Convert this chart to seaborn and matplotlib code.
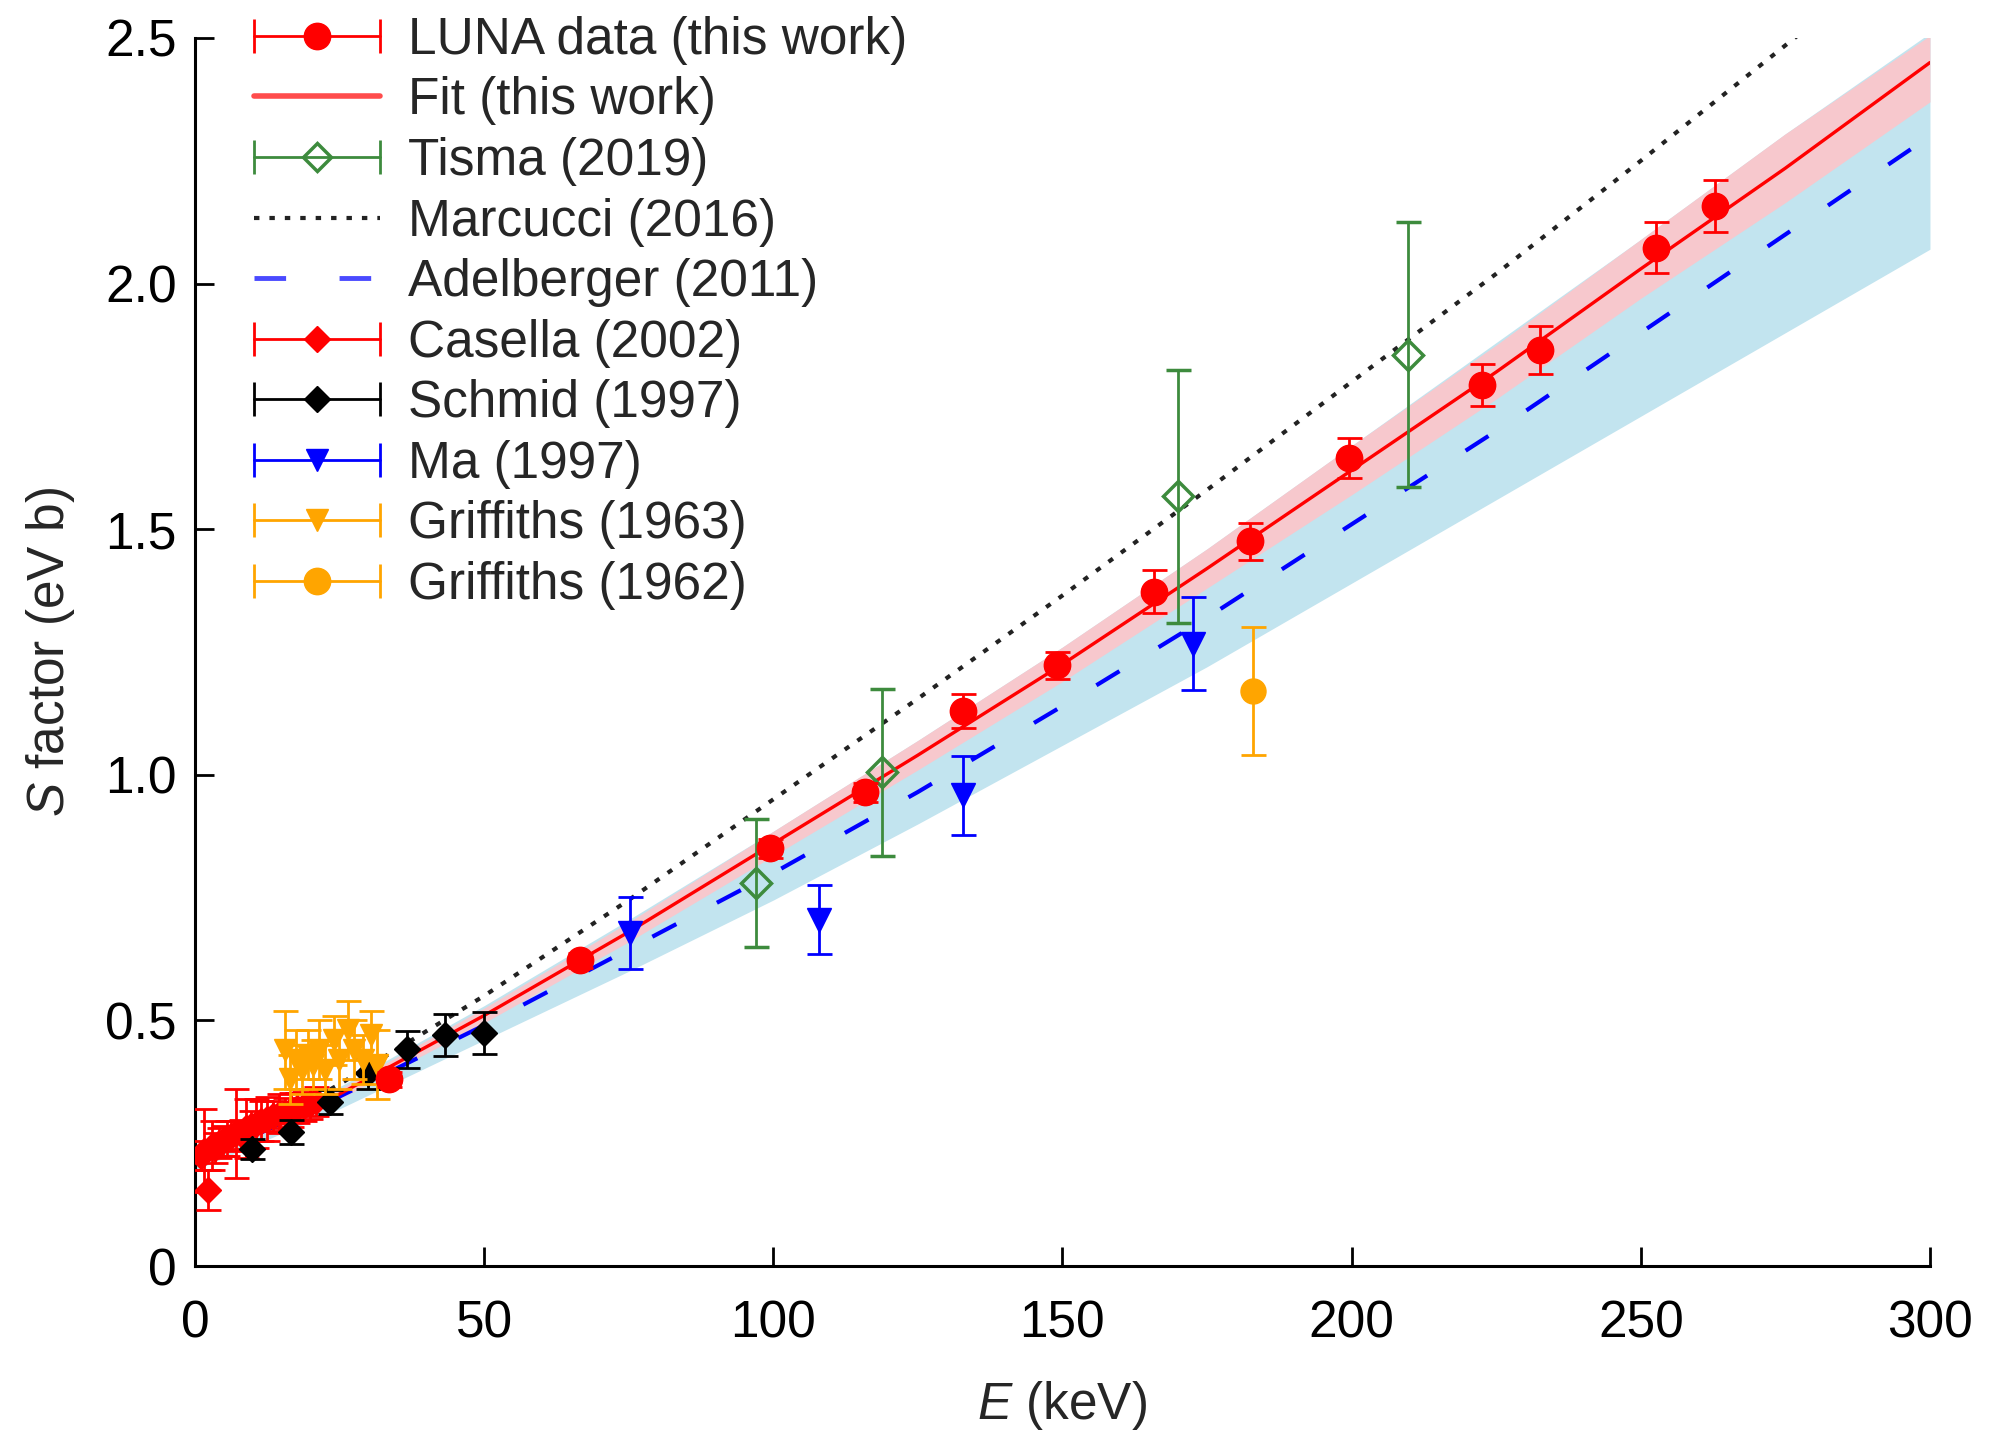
import numpy as np
import pandas as pd
import matplotlib
matplotlib.use('Agg')
import matplotlib.pyplot as plt
from matplotlib.lines import Line2D
from matplotlib.legend_handler import HandlerLine2D, HandlerTuple
import seaborn as sns

# model curves on a 25 keV grid
grid_E = [0, 25, 50, 75, 100, 125, 150, 175, 200, 225, 250, 275, 300]
fit_S = [0.21, 0.35, 0.51, 0.68, 0.86, 1.04, 1.225, 1.42, 1.62, 1.82, 2.03, 2.235, 2.45]
fit_lo = [0.205, 0.34, 0.495, 0.66, 0.835, 1.01, 1.19, 1.38, 1.57, 1.765, 1.97, 2.165, 2.37]
fit_hi = [0.215, 0.36, 0.525, 0.70, 0.885, 1.07, 1.26, 1.46, 1.67, 1.875, 2.09, 2.305, 2.505]
adel_S = [0.21, 0.345, 0.49, 0.645, 0.80, 0.965, 1.14, 1.32, 1.51, 1.70, 1.90, 2.10, 2.30]
adel_lo = [0.195, 0.32, 0.46, 0.60, 0.745, 0.90, 1.06, 1.22, 1.39, 1.56, 1.73, 1.90, 2.07]
adel_hi = [0.225, 0.365, 0.53, 0.705, 0.885, 1.07, 1.26, 1.46, 1.67, 1.88, 2.09, 2.305, 2.51]
marc_S = [0.21, 0.37, 0.55, 0.745, 0.95, 1.155, 1.365, 1.58, 1.80, 2.02, 2.25, 2.485, 2.72]

# data sets
luna_E = [33.5, 66.6, 99.4, 115.9, 132.8, 149.1, 165.8, 182.5, 199.5, 222.6, 232.5, 252.7, 262.8]
luna_S = [0.38, 0.622, 0.85, 0.964, 1.13, 1.223, 1.373, 1.475, 1.645, 1.793, 1.865, 2.073, 2.158]
luna_err = [0.015, 0.015, 0.02, 0.02, 0.034, 0.027, 0.043, 0.038, 0.041, 0.043, 0.049, 0.052, 0.053]

tisma_E = [97.0, 118.8, 170.0, 209.8]
tisma_S = [0.78, 1.005, 1.567, 1.855]
tisma_err = [0.13, 0.17, 0.258, 0.27]

casella_E = [1.0, 1.6, 2.2, 2.9, 3.5, 4.2, 4.9, 5.6, 6.3, 7.1, 7.9, 8.8, 9.7, 10.6, 11.5, 12.5,
             13.5, 14.5, 15.5, 16.6, 17.7, 18.8, 19.9, 21.0]
casella_S = [0.225, 0.235, 0.155, 0.245, 0.24, 0.25, 0.255, 0.26, 0.265, 0.27, 0.268, 0.28, 0.285, 0.29,
             0.295, 0.30, 0.305, 0.31, 0.312, 0.318, 0.322, 0.325, 0.33, 0.335]
casella_err = [0.03, 0.085, 0.04, 0.05, 0.03, 0.03, 0.03, 0.035, 0.03, 0.09, 0.03, 0.06, 0.03, 0.05,
               0.04, 0.045, 0.03, 0.04, 0.03, 0.035, 0.03, 0.03, 0.03, 0.03]

schmid_E = [9.8, 16.7, 23.3, 30.0, 36.6, 43.2, 49.9]
schmid_S = [0.238, 0.273, 0.334, 0.392, 0.441, 0.470, 0.474]
schmid_err = [0.02, 0.024, 0.024, 0.032, 0.037, 0.043, 0.043]

ma_E = [75.2, 107.9, 132.8, 172.6]
ma_S = [0.678, 0.705, 0.958, 1.267]
ma_err = [0.074, 0.07, 0.08, 0.095]

g63_E = [15.5, 16.5, 17.5, 18.5, 19.5, 20.5, 21.5, 22.5, 24.0, 25.0, 26.5, 27.5, 29.0, 30.5, 31.5]
g63_S = [0.44, 0.38, 0.42, 0.40, 0.43, 0.41, 0.44, 0.40, 0.46, 0.42, 0.48, 0.44, 0.42, 0.47, 0.41]
g63_err = [0.08, 0.05, 0.06, 0.05, 0.05, 0.05, 0.06, 0.05, 0.05, 0.06, 0.06, 0.06, 0.05, 0.05, 0.07]

g62_E = [183.0]
g62_S = [1.17]
g62_err = [0.13]

x_ticks = [0, 50, 100, 150, 200, 250, 300]
y_ticks = [0, 0.5, 1.0, 1.5, 2.0, 2.5]
y_tick_labels = ['0', '0.5', '1.0', '1.5', '2.0', '2.5']

red = '#ff0000'
green = '#3d8b3d'
blue = '#0000ff'
orange = '#ffa500'
dots = (0, (1.3, 2.4))
dashes = (0, (6.5, 11))

sns.set_theme(style='ticks')
plt.rcParams['font.family'] = ['Liberation Sans', 'DejaVu Sans']
plt.rcParams['mathtext.fontset'] = 'custom'
plt.rcParams['mathtext.it'] = 'Liberation Sans:italic'
plt.rcParams['mathtext.rm'] = 'Liberation Sans'

curves = pd.DataFrame({'E': grid_E, 'fit': fit_S, 'adel': adel_S, 'marc': marc_S})

fig = plt.figure(figsize=(19.95, 14.39), dpi=100)
ax = fig.add_axes([0.0977, 0.1202, 0.8697, 0.8534])

ax.fill_between(grid_E, adel_lo, adel_hi, color='#c2e4ef', lw=0, zorder=1)
ax.fill_between(grid_E, fit_lo, fit_hi, color='#f7c8cd', lw=0, zorder=2)

sns.lineplot(data=curves, x='E', y='marc', color='#222222', lw=3, linestyle=dots, ax=ax, zorder=3)
sns.lineplot(data=curves, x='E', y='adel', color=blue, lw=3, linestyle=dashes, ax=ax, zorder=3)
sns.lineplot(data=curves, x='E', y='fit', color=red, lw=2.4, ax=ax, zorder=4)

eb = dict(capsize=9, elinewidth=2, capthick=2, ls='none')
ax.errorbar(casella_E, casella_S, yerr=casella_err, fmt='D', color=red, ms=13, zorder=5, **eb)
ax.errorbar(schmid_E, schmid_S, yerr=schmid_err, fmt='D', color='black', ms=13, zorder=6, **eb)
ax.errorbar(g63_E, g63_S, yerr=g63_err, fmt='v', color=orange, ms=16, zorder=7, **eb)
ax.errorbar(g62_E, g62_S, yerr=g62_err, fmt='o', color=orange, ms=18, zorder=7, **eb)
ax.errorbar(ma_E, ma_S, yerr=ma_err, fmt='v', color=blue, ms=17, zorder=7, **eb)
ax.errorbar(tisma_E, tisma_S, yerr=tisma_err, fmt='D', color=green, ms=15, mfc='none', mew=2.5, zorder=8, **eb)
ax.errorbar(luna_E, luna_S, yerr=luna_err, fmt='o', color=red, ms=19, zorder=9, **eb)

ax.set_xlim(0, 300)
ax.set_ylim(0, 2.5)
ax.set_xticks(x_ticks)
ax.set_xticklabels([str(t) for t in x_ticks])
ax.set_yticks(y_ticks)
ax.set_yticklabels(y_tick_labels)
ax.tick_params(direction='in', length=14, width=2, labelsize=37, colors='black')
ax.tick_params(axis='x', pad=24)
ax.tick_params(axis='y', pad=13)
sns.despine(ax=ax)
for s in ['left', 'bottom']:
    ax.spines[s].set_linewidth(2.2)
    ax.spines[s].set_color('black')

ax.set_xlabel(r'$\mathit{E}$ (keV)', fontsize=37, labelpad=22)
ax.set_ylabel(r'$\mathit{S}$ factor (eV b)', fontsize=37, labelpad=20)


def series_handle(color, marker, ms, mfc=None, mew=1):
    caps = Line2D([], [], color=color, lw=2, marker='|', ms=24, mew=2)
    mark = Line2D([], [], ls='none', marker=marker, color=color, ms=ms,
                  mfc=mfc if mfc else color, mec=color, mew=mew)
    return caps, mark


handles, labels, hmap = [], [], {}
entries = [
    ('LUNA data (this work)', red, 'o', 19, None, 1),
    ('Fit (this work)', None, None, None, None, None),
    ('Tisma (2019)', green, 'D', 14, 'none', 2.5),
    ('Marcucci (2016)', None, None, None, None, None),
    ('Adelberger (2011)', None, None, None, None, None),
    ('Casella (2002)', red, 'D', 13, None, 1),
    ('Schmid (1997)', 'black', 'D', 13, None, 1),
    ('Ma (1997)', blue, 'v', 16, None, 1),
    ('Griffiths (1963)', orange, 'v', 16, None, 1),
    ('Griffiths (1962)', orange, 'o', 19, None, 1),
]
for lab, c, m, ms, mfc, mew in entries:
    if lab.startswith('Fit'):
        h = Line2D([], [], color=red, lw=4, alpha=0.7)
    elif lab.startswith('Marcucci'):
        h = Line2D([], [], color='#222222', lw=3, linestyle=dots)
    elif lab.startswith('Adelberger'):
        h = Line2D([], [], color='#4a4aff', lw=3.5, linestyle=dashes)
    else:
        caps, mark = series_handle(c, m, ms, mfc, mew)
        hmap[caps] = HandlerLine2D(numpoints=2, marker_pad=0)
        h = (caps, mark)
    handles.append(h)
    labels.append(lab)

hmap[tuple] = HandlerTuple(ndivide=1)
ax.legend(handles, labels, handler_map=hmap, loc='upper left', bbox_to_anchor=(0.1273, 0.989),
          bbox_transform=fig.transFigure, frameon=False, fontsize=37, numpoints=1,
          handlelength=2.45, handletextpad=0.55, labelspacing=0.225, borderpad=0, borderaxespad=0)

fig.savefig('out.png', dpi=100)
